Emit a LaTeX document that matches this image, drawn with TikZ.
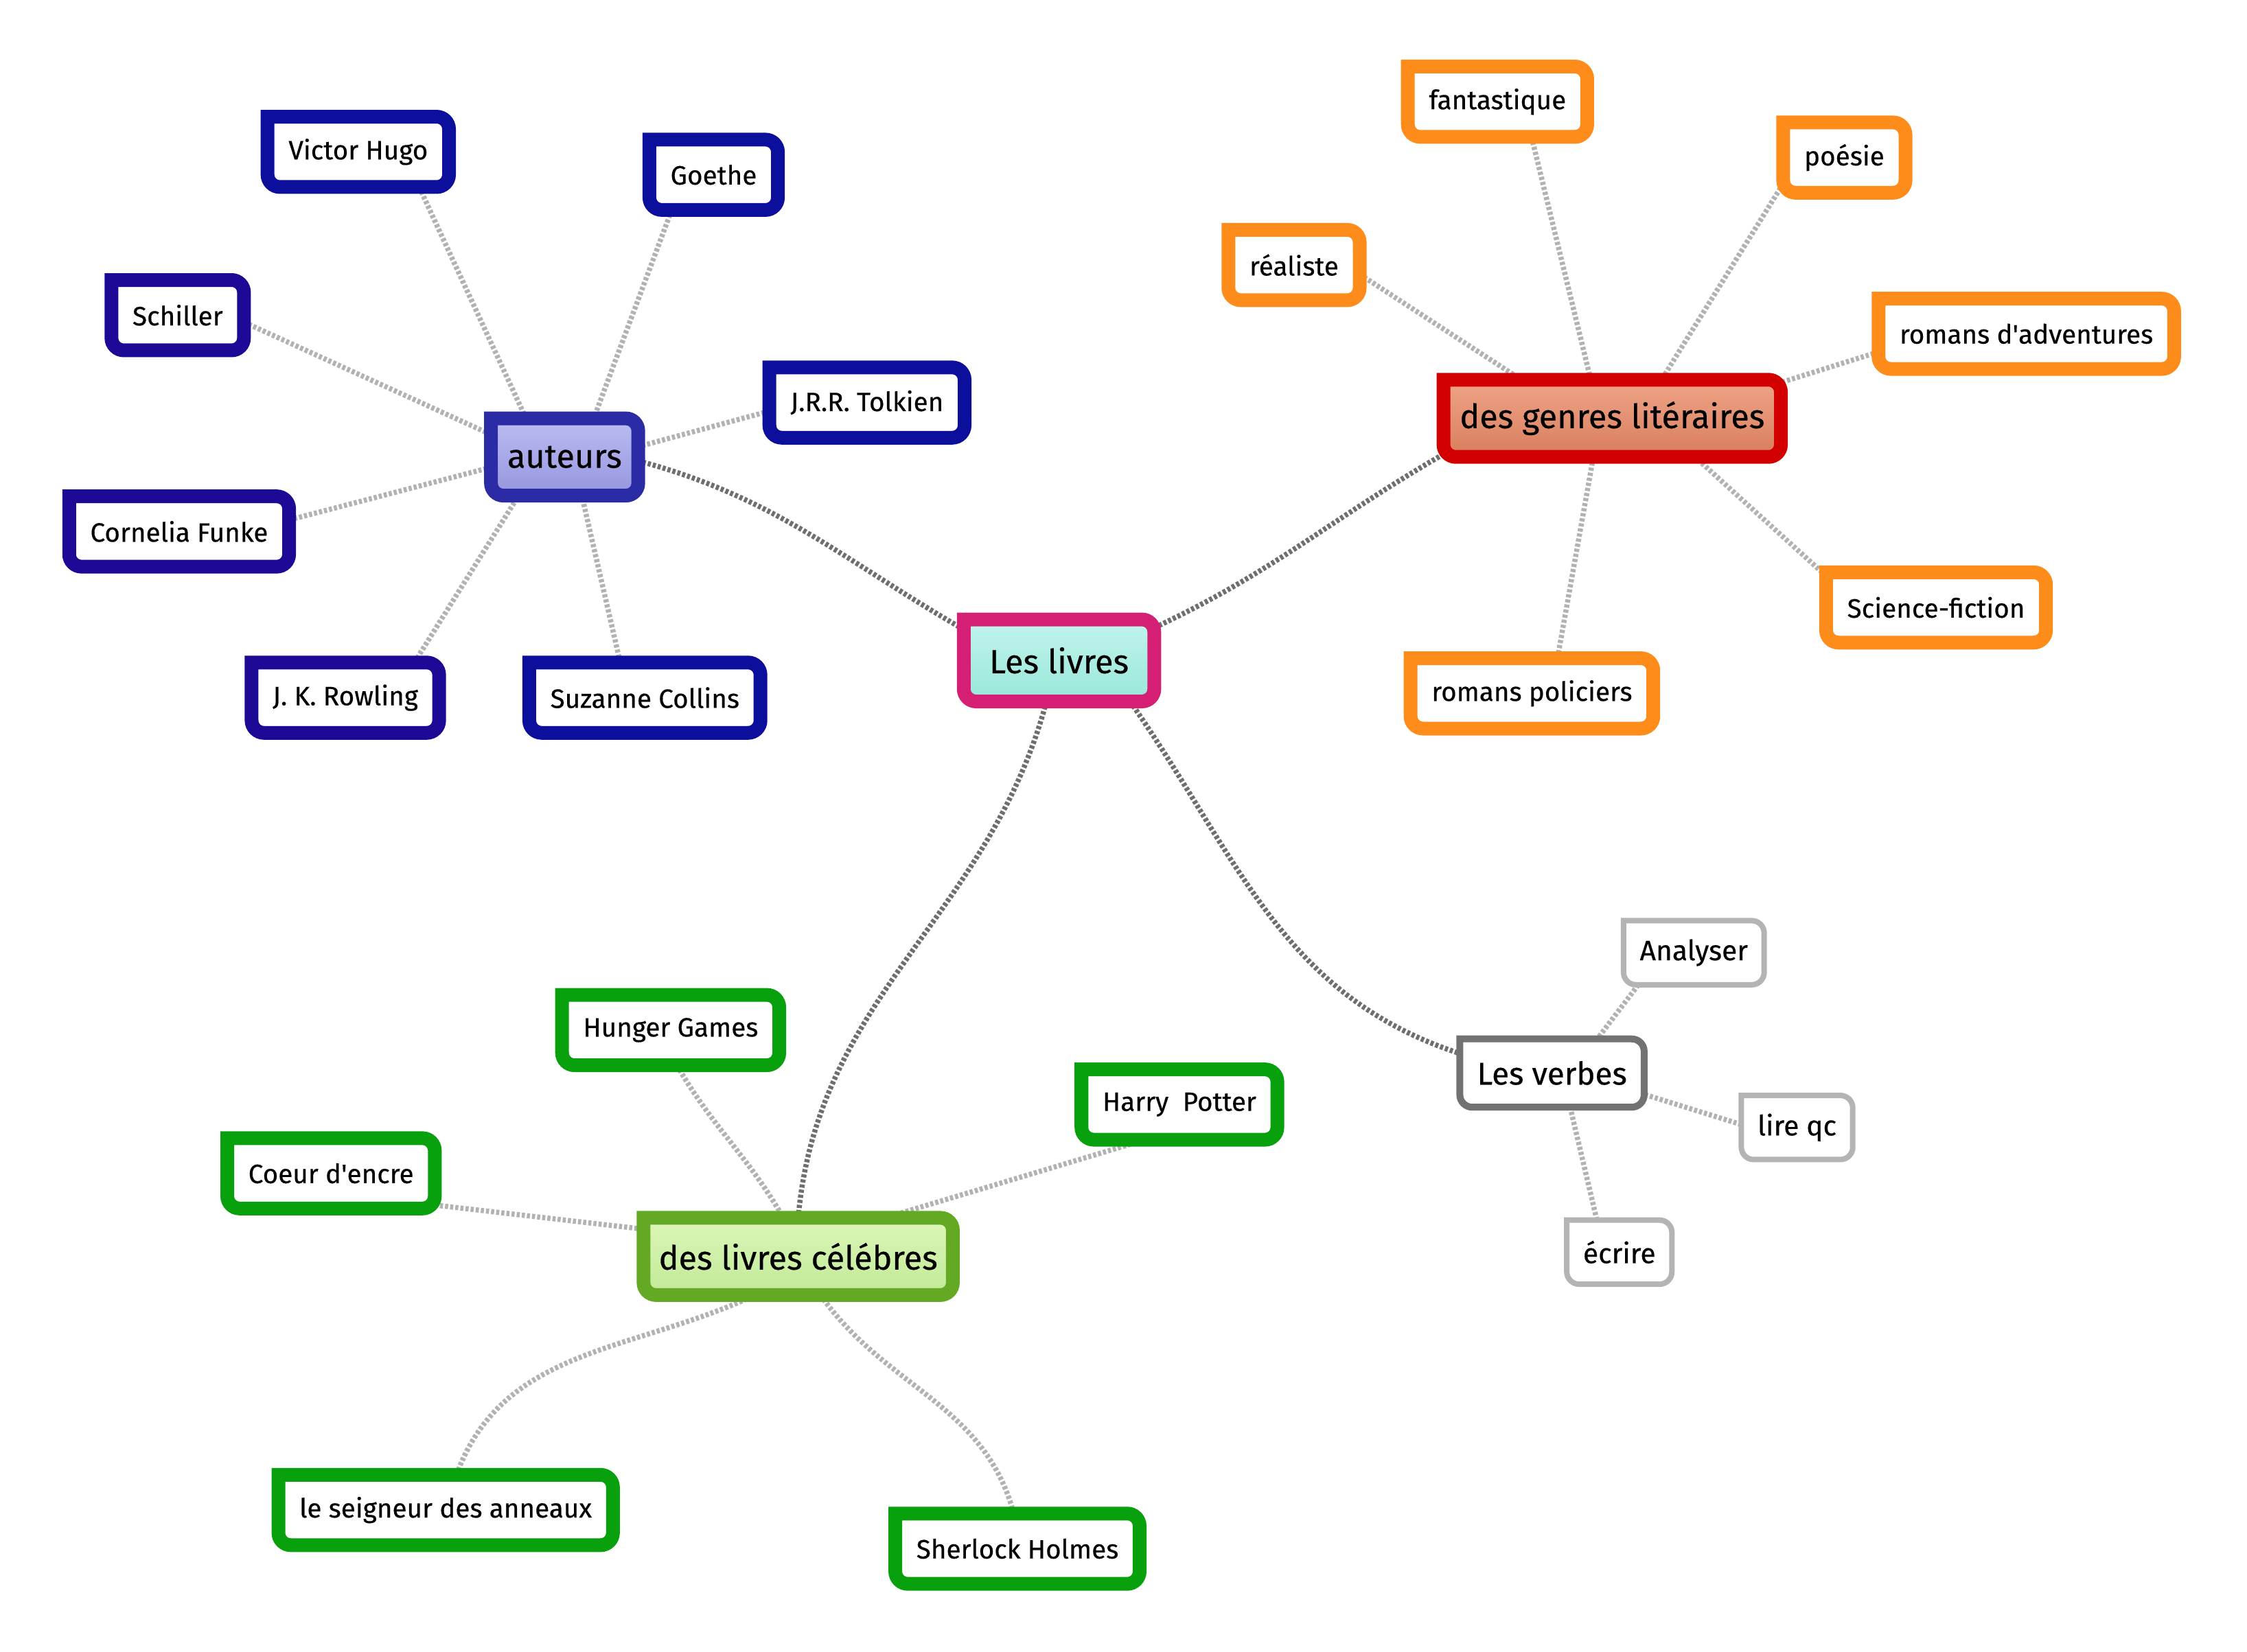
\documentclass[tikz,border=0pt]{standalone}
\usepackage{fontspec}
\setmainfont{Fira Sans}[FakeBold=0.4]
\definecolor{bleu}{HTML}{0C0F9C}
\definecolor{violet}{HTML}{1C0996}
\definecolor{bleuhub}{HTML}{2B2BA6}
\definecolor{auteurshaut}{HTML}{BCBCF2}
\definecolor{auteursbas}{HTML}{9595E0}
\definecolor{orangegenre}{HTML}{FD8C1A}
\definecolor{rouge}{HTML}{D20000}
\definecolor{genreshaut}{HTML}{F0A487}
\definecolor{genresbas}{HTML}{D77E5E}
\definecolor{vertfeuille}{HTML}{08A00C}
\definecolor{verthub}{HTML}{63A923}
\definecolor{celebreshaut}{HTML}{DDF6B8}
\definecolor{celebresbas}{HTML}{C0EA97}
\definecolor{rose}{HTML}{D41F75}
\definecolor{livreshaut}{HTML}{C2F4EC}
\definecolor{livresbas}{HTML}{98E7DA}
\definecolor{grisfonce}{HTML}{727272}
\definecolor{grisclair}{HTML}{B4B4B4}
\definecolor{lienfonce}{HTML}{6E6E6E}
\definecolor{lienclair}{HTML}{B2B2B2}
\tikzset{
  feuille/.style={fill=white, font=\fontsize{11}{13}\selectfont, minimum height=10.1mm, inner xsep=3mm, inner ysep=0pt},
  theme/.style={font=\fontsize{13.8}{16}\selectfont, minimum height=11.1mm, inner xsep=2mm, inner ysep=0pt},
  verbe/.style={fill=white, font=\fontsize{11.6}{14}\selectfont, minimum height=9.2mm, inner xsep=2.3mm, inner ysep=0pt},
  lien/.style={draw=lienclair, line width=0.75mm, dash pattern=on 0.45mm off 0.3mm},
  lienfort/.style={lien, draw=lienfonce},
  cadre/.style={line cap=rect, rounded corners=1.8mm}
}
\begin{document}
\begin{tikzpicture}[x=0.2087mm, y=0.2087mm]
 \useasboundingbox (0,0) rectangle (1568,-1153);
 \node[theme, top color=livreshaut, bottom color=livresbas, minimum height=11.8mm, minimum width=27.6mm] (livres) at (739,-461) {Les livres};
 \node[theme, top color=auteurshaut, bottom color=auteursbas, minimum width=21.3mm] (auteurs) at (394,-319) {auteurs};
 \node[theme, top color=genreshaut, bottom color=genresbas, minimum width=49mm] (genres) at (1125,-292) {des genres litéraires};
 \node[theme, top color=celebreshaut, bottom color=celebresbas, minimum width=44.9mm] (celebres) at (557,-877) {des livres célébres};
 \node[theme, fill=white, font=\fontsize{13}{16}\selectfont, minimum height=9.8mm, minimum width=26.7mm] (verbes) at (1083,-749) {Les verbes};
 \node[feuille] (hugo) at (250,-106) {Victor Hugo};
 \node[feuille] (goethe) at (498,-122) {Goethe};
 \node[feuille] (schiller) at (124,-220) {Schiller};
 \node[feuille] (tolkien) at (605,-281) {J.R.R. Tolkien};
 \node[feuille] (funke) at (125,-371) {Cornelia Funke};
 \node[feuille] (rowling) at (241,-487) {J. K. Rowling};
 \node[feuille] (collins) at (450,-487) {Suzanne Collins};
 \node[feuille] (fantastique) at (1045,-71) {fantastique};
 \node[feuille] (poesie) at (1287,-110) {poésie};
 \node[feuille] (realiste) at (903,-185) {réaliste};
 \node[feuille] (aventures) at (1414,-233) {romans d\textquotesingle adventures};
 \node[feuille] (sf) at (1351,-424) {Science-fiction};
 \node[feuille] (policiers) at (1069,-484) {romans policiers};
 \node[feuille] (hunger) at (468,-719) {Hunger Games};
 \node[feuille] (potter) at (823,-771) {Harry\ \ Potter};
 \node[feuille] (coeur) at (231,-819) {Coeur d\textquotesingle encre};
 \node[feuille] (seigneur) at (311,-1054) {le seigneur des anneaux};
 \node[feuille] (sherlock) at (710,-1081) {Sherlock Holmes};
 \node[verbe] (analyser) at (1182,-665) {Analyser};
 \node[verbe] (lire) at (1254,-787) {lire qc};
 \node[verbe] (ecrire) at (1130,-874) {écrire};
 \draw[lienfort] (livres.162) to[out=150, in=-15] (auteurs.-3);
 \draw[lienfort] (livres.19) to[out=25, in=210] (genres.192);
 \draw[lienfort] (livres.253) to[out=-105, in=85] (celebres.90);
 \draw[lienfort] (livres.-30) to[out=-55, in=162] (verbes.168);
 \draw[lien] (hugo.-30) -- (auteurs.135);
 \draw[lien] (goethe.220) -- (auteurs.53);
 \draw[lien] (schiller.-6) -- (auteurs.163);
 \draw[lien] (tolkien.185) -- (auteurs.8);
 \draw[lien] (funke.6) -- (auteurs.188);
 \draw[lien] (rowling.27) -- (auteurs.220);
 \draw[lien] (collins.125) -- (auteurs.294);
 \draw[lien] (fantastique.-46) -- (genres.119);
 \draw[lien] (poesie.203) -- (genres.38);
 \draw[lien] (realiste.-8) -- (genres.157);
 \draw[lien] (aventures.187) -- (genres.12);
 \draw[lien] (sf.164) -- (genres.-25);
 \draw[lien] (policiers.54) -- (genres.-116);
 \draw[lien] (hunger.-80) to[out=-60, in=120] (celebres.111);
 \draw[lien] (potter.226) -- (celebres.24);
 \draw[lien] (coeur.-17) -- (celebres.170);
 \draw[lien] (seigneur.73) to[out=70, in=205] (celebres.222);
 \draw[lien] (sherlock.96) to[out=105, in=-55] (celebres.-60);
 \draw[lien] (analyser.210) -- (verbes.37);
 \draw[lien] (lire.177) -- (verbes.-13);
 \draw[lien] (ecrire.125) -- (verbes.-62);
 \foreach \n/\c/\w in {livres/rose/2mm, auteurs/bleuhub/2mm, genres/rouge/2mm, celebres/verthub/2mm, verbes/grisfonce/1mm,
   hugo/bleu/2mm, goethe/bleu/2mm, schiller/violet/2mm, tolkien/bleu/2mm, funke/violet/2mm, rowling/violet/2mm, collins/bleu/2mm,
   fantastique/orangegenre/2mm, poesie/orangegenre/2mm, realiste/orangegenre/2mm, aventures/orangegenre/2mm, sf/orangegenre/2mm, policiers/orangegenre/2mm,
   hunger/vertfeuille/2mm, potter/vertfeuille/2mm, coeur/vertfeuille/2mm, seigneur/vertfeuille/2mm, sherlock/vertfeuille/2mm,
   analyser/grisclair/0.8mm, lire/grisclair/0.8mm, ecrire/grisclair/0.8mm}
   \draw[cadre, draw=\c, line width=\w] (\n.north west) -- (\n.north east) -- (\n.south east) -- (\n.south west) -- (\n.north west);
\end{tikzpicture}
\end{document}
